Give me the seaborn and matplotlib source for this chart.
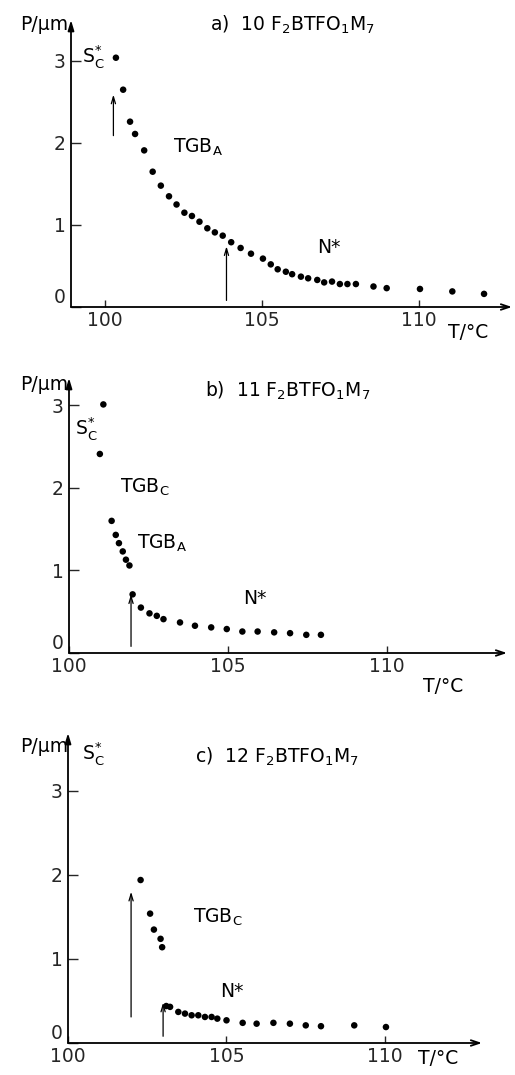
import matplotlib
matplotlib.use("Agg")
import matplotlib.pyplot as plt
import seaborn as sns
import pandas as pd

# ---------------- data ----------------
# a) 10 F2BTFO1M7
a_T = [100.35, 100.58, 100.80, 100.96, 101.25, 101.52, 101.78, 102.04, 102.28, 102.53,
       102.77, 103.01, 103.26, 103.50, 103.75, 104.02, 104.32, 104.65, 105.03, 105.28,
       105.50, 105.76, 105.96, 106.24, 106.47, 106.76, 106.98, 107.23, 107.48, 107.72,
       107.99, 108.55, 108.97, 110.03, 111.06, 112.07]
a_P = [3.04, 2.65, 2.26, 2.11, 1.91, 1.65, 1.48, 1.35, 1.25, 1.15,
       1.11, 1.04, 0.96, 0.91, 0.87, 0.79, 0.72, 0.65, 0.59, 0.52,
       0.46, 0.43, 0.40, 0.37, 0.35, 0.33, 0.30, 0.31, 0.28, 0.28,
       0.28, 0.25, 0.23, 0.22, 0.19, 0.16]

# b) 11 F2BTFO1M7
b_T = [101.08, 100.97, 101.34, 101.47, 101.57, 101.69, 101.79, 101.90, 102.00, 102.26,
       102.53, 102.76, 102.97, 103.49, 103.96, 104.47, 104.96, 105.45, 105.93, 106.45,
       106.95, 107.46, 107.92]
b_P = [3.01, 2.41, 1.60, 1.43, 1.33, 1.23, 1.13, 1.06, 0.71, 0.55,
       0.48, 0.45, 0.41, 0.37, 0.33, 0.31, 0.29, 0.26, 0.26, 0.25,
       0.24, 0.22, 0.22]

# c) 12 F2BTFO1M7
c_T = [102.29, 102.59, 102.71, 102.92, 102.97, 103.10, 103.22, 103.48, 103.69, 103.90,
       104.11, 104.32, 104.53, 104.71, 105.00, 105.51, 105.95, 106.48, 107.00, 107.50,
       107.98, 109.03, 110.03]
c_P = [1.94, 1.54, 1.35, 1.24, 1.14, 0.44, 0.43, 0.37, 0.35, 0.33,
       0.33, 0.31, 0.31, 0.29, 0.27, 0.24, 0.23, 0.24, 0.23, 0.21,
       0.20, 0.21, 0.19]

# transition arrows: (T, P_start, P_end)
a_arrows = [(100.27, 2.09, 2.59), (103.87, 0.08, 0.74)]
b_arrows = [(101.95, 0.08, 0.71)]
c_arrows = [(101.99, 0.31, 1.80), (103.00, 0.08, 0.48)]

# phase labels: (T, P, text)
a_labels = [(99.27, 3.05, r"S$_{\mathrm{C}}^{*}$"), (102.17, 1.95, r"TGB$_{\mathrm{A}}$"),
            (106.75, 0.72, r"N*")]
b_labels = [(100.19, 2.72, r"S$_{\mathrm{C}}^{*}$"), (101.60, 2.00, r"TGB$_{\mathrm{C}}$"),
            (102.14, 1.33, r"TGB$_{\mathrm{A}}$"), (105.47, 0.66, r"N*")]
c_labels = [(100.44, 3.45, r"S$_{\mathrm{C}}^{*}$"), (103.94, 1.50, r"TGB$_{\mathrm{C}}$"),
            (104.80, 0.61, r"N*")]

titles = [r"a)  10 F$_2$BTFO$_1$M$_7$", r"b)  11 F$_2$BTFO$_1$M$_7$", r"c)  12 F$_2$BTFO$_1$M$_7$"]
x_ticks = [100, 105, 110]
y_ticks = [0, 1, 2, 3]

# ---------------- style ----------------
sns.set_style("white")
plt.rcParams["font.family"] = ["DejaVu Sans"]
plt.rcParams["mathtext.fontset"] = "dejavusans"
FS = 13.5

W, H = 515, 1075
fig = plt.figure(figsize=(W / 100, H / 100), dpi=100)
fig.patch.set_facecolor("white")


def add_axes_px(left, right, top, bottom):
    return fig.add_axes([left / W, 1 - bottom / H, (right - left) / W, (bottom - top) / H])


def ftext(x, y, s, ha="left", va="center", size=FS):
    fig.text(x / W, 1 - y / H, s, ha=ha, va=va, fontsize=size, color="black")


def draw_panel(ax, T, P, xlim, ylim, arrows, labels):
    df = pd.DataFrame({"T": T, "P": P})
    sns.scatterplot(data=df, x="T", y="P", ax=ax, color="black", s=22,
                    edgecolor="none", legend=False, zorder=3)
    ax.set_xlim(*xlim)
    ax.set_ylim(*ylim)
    for s in ax.spines.values():
        s.set_visible(False)
    ax.set_facecolor("none")
    ax.set_xlabel("")
    ax.set_ylabel("")
    ax.set_xticks(x_ticks)
    ax.set_yticks(y_ticks)
    ax.tick_params(axis="x", direction="in", length=5, width=1.0, pad=3, labelsize=FS,
                   bottom=True)
    ax.tick_params(axis="y", direction="in", length=7, width=1.0, pad=4, labelsize=FS,
                   left=True)
    # the "0" label sits just above the T axis, as in the original
    zero_tick = ax.yaxis.get_major_ticks()[0]
    zero_tick.label1.set_verticalalignment("bottom")
    # axes with arrowheads
    ax.annotate("", xy=(0, 1), xytext=(0, 0), xycoords="axes fraction",
                arrowprops=dict(arrowstyle="-|>,head_length=0.6,head_width=0.18",
                                lw=1.3, color="black", shrinkA=0, shrinkB=0))
    ax.annotate("", xy=(1, 0), xytext=(0, 0), xycoords="axes fraction",
                arrowprops=dict(arrowstyle="->,head_length=0.6,head_width=0.2",
                                lw=1.3, color="black", shrinkA=0, shrinkB=0))
    for t, p0, p1 in arrows:
        ax.annotate("", xy=(t, p1), xytext=(t, p0),
                    arrowprops=dict(arrowstyle="->,head_length=0.5,head_width=0.15",
                                    lw=0.9, color="black", shrinkA=0, shrinkB=0))
    for t, p, s in labels:
        ax.text(t, p, s, ha="left", va="center", fontsize=FS, color="black")


ax_a = add_axes_px(71, 512, 20, 307)
draw_panel(ax_a, a_T, a_P, (98.92, 112.96), (0, 3.5), a_arrows, a_labels)
ax_b = add_axes_px(69, 507, 378, 653)
draw_panel(ax_b, b_T, b_P, (100.0, 113.77), (0, 3.33), b_arrows, b_labels)
ax_c = add_axes_px(68, 482, 733, 1043)
draw_panel(ax_c, c_T, c_P, (100.0, 113.06), (0, 3.69), c_arrows, c_labels)

# titles and axis names
ftext(210, 25, titles[0])
ftext(205, 391, titles[1])
ftext(195, 757, titles[2])
for y in (25, 385, 747):
    ftext(68, y, "P/µm", ha="right")
ftext(448, 333, "T/°C")
ftext(423, 687, "T/°C")
ftext(418, 1059, "T/°C")

fig.savefig("out.png", dpi=100, facecolor="white")
